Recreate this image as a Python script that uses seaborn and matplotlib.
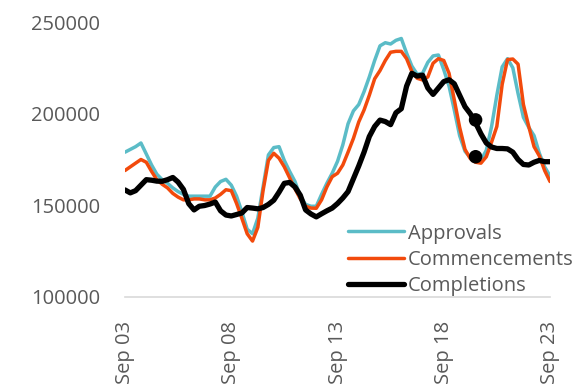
import matplotlib
matplotlib.use("Agg")
import matplotlib.pyplot as plt
import seaborn as sns
import pandas as pd

# ---- data (quarterly, Sep 2003 - Sep 2023) ----
start_date = "2003-09-01"
n_quarters = 81

approvals = [
    179000, 180500, 182000, 184000, 178000, 172000, 167000, 164000, 162000, 159500,
    157500, 156000, 155000, 155000, 155000, 155000, 155000, 160000, 163000, 164200,
    161000, 155000, 146500, 137000, 134500, 143000, 160000, 177500, 181500, 182000,
    174500, 168500, 163000, 155000, 150500, 149500, 149500, 156000, 162000, 167500,
    174000, 183000, 194500, 201500, 205000, 212000, 220000, 229000, 237000, 238700,
    238000, 240000, 241000, 233000, 226000, 221500, 222000, 228000, 231500, 232000,
    224000, 215000, 202000, 188000, 179500, 176000, 174700, 174700, 180000, 193000,
    210000, 225500, 230000, 225000, 211000, 198000, 192500, 188000, 178500, 171000,
    166000,
]

commencements = [
    169000, 171000, 173000, 175000, 173500, 168500, 164000, 161500, 159500, 156500,
    154500, 153000, 153000, 153500, 153500, 153000, 153000, 154000, 156000, 158500,
    158000, 151000, 143000, 134500, 130500, 138000, 158000, 174500, 178400, 175700,
    171000, 165000, 159000, 153500, 149500, 148500, 148400, 153000, 160000, 165600,
    167500, 172000, 179000, 186500, 195500, 202000, 210000, 219000, 223500, 229000,
    233500, 234000, 234000, 230000, 223000, 219300, 218400, 220000, 227500, 230000,
    229000, 222000, 207500, 192500, 180500, 175500, 173500, 173000, 176500, 184500,
    193000, 216000, 229500, 229800, 227000, 205000, 193000, 182000, 177000, 169000,
    163000,
]

completions = [
    158400, 156800, 158000, 161000, 164000, 163700, 163200, 163100, 164000, 165200,
    162700, 158700, 150900, 147500, 149500, 149900, 150700, 151800, 147000, 144700,
    144200, 145000, 145800, 148800, 148500, 148100, 148800, 150500, 152800, 157200,
    162000, 162500, 160000, 155500, 147500, 145300, 143700, 145400, 147000, 148500,
    151000, 154000, 157500, 164500, 171500, 179000, 187500, 193000, 196500, 195700,
    194000, 200500, 202700, 215000, 222000, 220500, 221000, 214000, 210500, 214000,
    217500, 218500, 216300, 210000, 203800, 200000, 195000, 189000, 184000, 181800,
    181000, 181000, 180800, 179000, 175000, 172300, 172000, 173500, 174500, 173800,
    173800,
]

marker_date = "2020-03-01"
marker_values = [196600, 176500]

tick_dates = ["2003-09-01", "2008-09-01", "2013-09-01", "2018-09-01", "2023-09-01"]
tick_labels = ["Sep 03", "Sep 08", "Sep 13", "Sep 18", "Sep 23"]
y_ticks = [100000, 150000, 200000, 250000]

series_names = ["Approvals", "Commencements", "Completions"]
colors = ["#5bbcc7", "#f24a0c", "#000000"]
widths = [2.5, 2.5, 3.8]

# ---- plot ----
sns.set_theme(style="white")
plt.rcParams["font.family"] = ["Open Sans", "DejaVu Sans"]
text_color = "#595959"

dates = pd.date_range(start_date, periods=n_quarters, freq="QS-SEP")

fig = plt.figure(figsize=(5.76, 3.85), dpi=100)
ax = fig.add_axes([125 / 576, 1 - 297 / 385, 425 / 576, 275 / 385])

for name, vals, col, lw in zip(series_names, [approvals, commencements, completions], colors, widths):
    sns.lineplot(x=dates, y=vals, ax=ax, color=col, linewidth=lw, label=name)

sns.scatterplot(x=pd.to_datetime([marker_date] * len(marker_values)), y=marker_values,
                ax=ax, color="black", s=95, zorder=6, edgecolor="none", legend=False)

ax.set_xlim(dates[0], dates[-1])
ax.set_ylim(100000, 250000)
ax.set_yticks(y_ticks)
ax.set_yticklabels([str(v) for v in y_ticks])
ax.set_xticks(pd.to_datetime(tick_dates))
ax.set_xticklabels(tick_labels, rotation=90)
ax.set_xlabel("")
ax.set_ylabel("")
ax.tick_params(axis="y", length=0, pad=18, labelsize=14.5, labelcolor=text_color)
ax.tick_params(axis="x", length=0, pad=17, labelsize=14.5, labelcolor=text_color)

for s in ["left", "top", "right"]:
    ax.spines[s].set_visible(False)
ax.spines["bottom"].set_color("#d9d9d9")
ax.spines["bottom"].set_linewidth(1.2)

leg = ax.legend(loc="lower left", bbox_to_anchor=(0.525, 0.005), frameon=False,
                handlelength=2.75, handletextpad=0.2, labelspacing=0.3,
                fontsize=14.5, borderpad=0, borderaxespad=0, labelcolor=text_color)

fig.savefig("out.png", dpi=100)
